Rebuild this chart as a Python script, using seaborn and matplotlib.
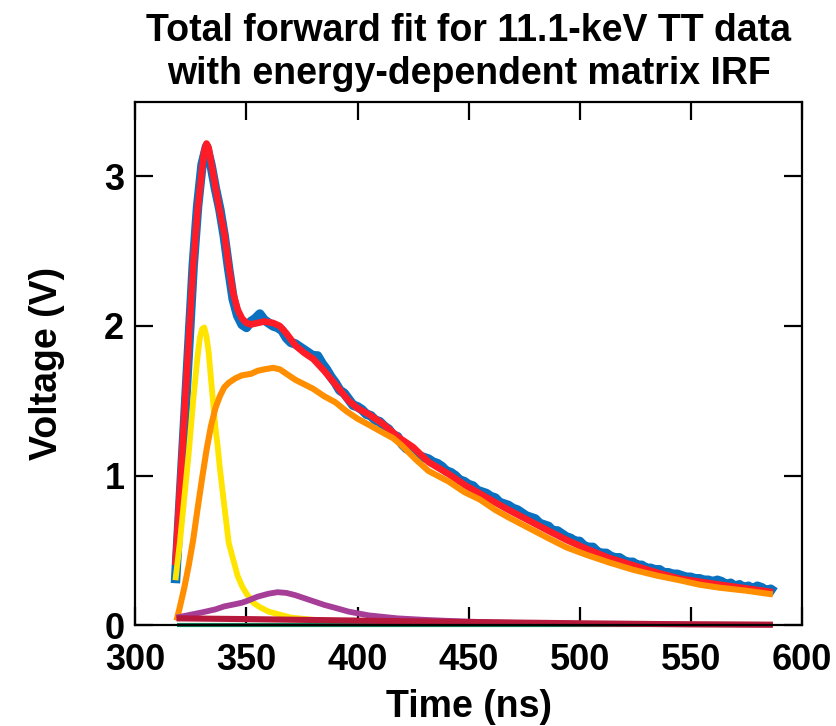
import matplotlib
matplotlib.use("Agg")
import matplotlib.pyplot as plt
import seaborn as sns

# ---------------- data ----------------
data_t = list(range(318, 589, 2))
data_v = [0.28, 0.80, 1.33, 1.87, 2.40, 2.80, 3.08, 3.20, 3.08, 2.92,
          2.78, 2.60, 2.38, 2.18, 2.07, 2.01, 1.99, 2.03, 2.05, 2.08,
          2.04, 2.02, 2.00, 1.99, 1.97, 1.92, 1.89, 1.88, 1.86, 1.84,
          1.82, 1.80, 1.80, 1.75, 1.71, 1.66, 1.62, 1.57, 1.55, 1.51,
          1.47, 1.46, 1.44, 1.41, 1.40, 1.37, 1.36, 1.33, 1.31, 1.27,
          1.26, 1.21, 1.18, 1.17, 1.15, 1.13, 1.12, 1.11, 1.09, 1.08,
          1.06, 1.03, 1.02, 1.00, 0.97, 0.96, 0.94, 0.93, 0.90, 0.89,
          0.88, 0.86, 0.85, 0.82, 0.81, 0.80, 0.78, 0.77, 0.75, 0.73,
          0.72, 0.71, 0.68, 0.67, 0.66, 0.63, 0.63, 0.61, 0.59, 0.58,
          0.56, 0.56, 0.53, 0.52, 0.52, 0.49, 0.48, 0.48, 0.46, 0.45,
          0.45, 0.43, 0.42, 0.42, 0.40, 0.40, 0.38, 0.38, 0.37, 0.37,
          0.35, 0.35, 0.34, 0.34, 0.33, 0.32, 0.32, 0.31, 0.31, 0.30,
          0.30, 0.29, 0.30, 0.29, 0.27, 0.28, 0.26, 0.27, 0.25, 0.26,
          0.24, 0.26, 0.25, 0.23, 0.24, 0.22]

fit_t = [318, 320, 322, 324, 326, 328, 330, 331, 332, 333, 334, 336, 338,
         340, 342, 344, 346, 348, 350, 352, 355, 358, 362, 365, 368, 372,
         376, 380, 385, 390, 396, 400, 405, 411, 419, 425, 432, 441, 449,
         455, 462, 468, 477, 486, 494, 503, 513, 524, 535, 545, 554, 563,
         575, 587]
fit_v = [0.40, 0.90, 1.40, 1.90, 2.40, 2.78, 3.05, 3.17, 3.22, 3.19, 3.10,
         2.93, 2.77, 2.62, 2.40, 2.22, 2.11, 2.05, 2.02, 2.01, 2.02, 2.03,
         2.02, 2.00, 1.95, 1.87, 1.82, 1.78, 1.70, 1.61, 1.50, 1.45, 1.41,
         1.35, 1.25, 1.19, 1.09, 1.01, 0.93, 0.88, 0.82, 0.77, 0.70, 0.63,
         0.57, 0.51, 0.45, 0.40, 0.35, 0.31, 0.29, 0.27, 0.245, 0.22]

yel_t = [318, 320, 322, 324, 326, 328, 329, 330, 331, 332, 333, 334, 336,
         337, 338, 340, 342, 344, 346, 348, 350, 353, 356, 360, 365, 370,
         380, 400, 450, 500, 587]
yel_v = [0.30, 0.55, 0.85, 1.15, 1.50, 1.80, 1.92, 1.98, 1.99, 1.93, 1.82,
         1.65, 1.32, 1.20, 1.05, 0.80, 0.55, 0.44, 0.33, 0.26, 0.21, 0.15,
         0.12, 0.09, 0.07, 0.05, 0.035, 0.018, 0.008, 0.004, 0.002]

org_t = [318.5, 320, 322, 324, 326, 328, 330, 332, 334, 336, 338, 340, 342,
         345, 348, 352, 355, 358, 362, 365, 368, 372, 376, 380, 385, 390,
         395, 400, 405, 411, 416, 420, 426, 432, 441, 448, 455, 462, 468,
         477, 486, 494, 503, 513, 524, 535, 545, 554, 563, 575, 587]
org_v = [0.03, 0.12, 0.25, 0.40, 0.57, 0.78, 0.98, 1.17, 1.33, 1.45, 1.53,
         1.59, 1.62, 1.65, 1.67, 1.68, 1.70, 1.71, 1.72, 1.71, 1.68, 1.64,
         1.61, 1.58, 1.53, 1.49, 1.43, 1.38, 1.34, 1.29, 1.25, 1.20, 1.11,
         1.03, 0.96, 0.89, 0.84, 0.77, 0.72, 0.65, 0.58, 0.52, 0.47, 0.42,
         0.37, 0.33, 0.30, 0.27, 0.25, 0.23, 0.205]

pur_t = [318.5, 325, 330, 336, 340, 345, 348, 350, 355, 360, 364, 368, 372,
         378, 385, 390, 396, 405, 418, 430, 441, 460, 480, 500, 540, 587]
pur_v = [0.05, 0.07, 0.085, 0.105, 0.125, 0.14, 0.15, 0.16, 0.19, 0.21, 0.22,
         0.215, 0.20, 0.17, 0.135, 0.115, 0.09, 0.065, 0.045, 0.035, 0.028,
         0.018, 0.012, 0.008, 0.004, 0.002]

crim_t = [318.5, 350, 400, 441, 500, 550, 587]
crim_v = [0.045, 0.04, 0.03, 0.022, 0.012, 0.005, 0.002]

grn_t = [318.5, 587]
grn_v = [0.0, 0.0]

x_ticks = [300, 350, 400, 450, 500, 550, 600]
y_ticks = [0, 1, 2, 3]

# ---------------- style ----------------
sns.set_style("ticks")
plt.rcParams["font.family"] = ["Liberation Sans", "DejaVu Sans"]
plt.rcParams["font.weight"] = "bold"
plt.rcParams["axes.labelweight"] = "bold"
plt.rcParams["axes.titleweight"] = "bold"
plt.rcParams["text.color"] = "black"
plt.rcParams["axes.labelcolor"] = "black"
plt.rcParams["xtick.color"] = "black"
plt.rcParams["ytick.color"] = "black"

fig = plt.figure(figsize=(8.36, 7.26), dpi=100)
ax = fig.add_axes([0.162, 0.139, 0.797, 0.721])

c_blue = "#0A70C0"
c_red = "#FF1C27"
c_yel = "#FFE400"
c_org = "#FF8F00"
c_pur = "#A63E98"
c_crim = "#B5183A"
c_grn = "#13845A"

sns.lineplot(x=data_t, y=data_v, color=c_blue, lw=6.8, ax=ax, zorder=2)
sns.lineplot(x=fit_t, y=fit_v, color=c_red, lw=4.8, ax=ax, zorder=2.1)
sns.lineplot(x=yel_t, y=yel_v, color=c_yel, lw=4.2, ax=ax, zorder=2.2)
sns.lineplot(x=org_t, y=org_v, color=c_org, lw=4.4, ax=ax, zorder=2.3)
sns.lineplot(x=pur_t, y=pur_v, color=c_pur, lw=4.2, ax=ax, zorder=2.4)
sns.lineplot(x=crim_t, y=crim_v, color=c_crim, lw=4.4, ax=ax, zorder=2.45)
sns.lineplot(x=grn_t, y=grn_v, color=c_grn, lw=3.0, ax=ax, zorder=2.42)
for ln in ax.lines:
    ln.set_solid_capstyle("butt")
ax.lines[-1].set_clip_on(False)
ax.lines[-2].set_clip_on(False)

ax.set_xlim(300, 600)
ax.set_ylim(0, 3.5)
ax.set_xticks(x_ticks)
ax.set_yticks(y_ticks)
ax.set_xticklabels([str(v) for v in x_ticks])
ax.set_yticklabels([str(v) for v in y_ticks])

for s in ax.spines.values():
    s.set_visible(True)
    s.set_linewidth(1.6)
    s.set_color("black")

ax.tick_params(axis="both", direction="in", length=13, width=1.6,
               top=True, right=True, labelsize=26, colors="black")
ax.tick_params(axis="x", pad=13)
ax.tick_params(axis="y", pad=8)

ax.set_xlabel("Time (ns)", fontsize=27, fontweight="bold", labelpad=8)
ax.set_ylabel("Voltage (V)", fontsize=27, fontweight="bold", labelpad=28)
ax.set_title("Total forward fit for 11.1-keV TT data\nwith energy-dependent matrix IRF",
             fontsize=27, fontweight="bold", pad=13, linespacing=1.25)

fig.savefig("out.png", dpi=100)
